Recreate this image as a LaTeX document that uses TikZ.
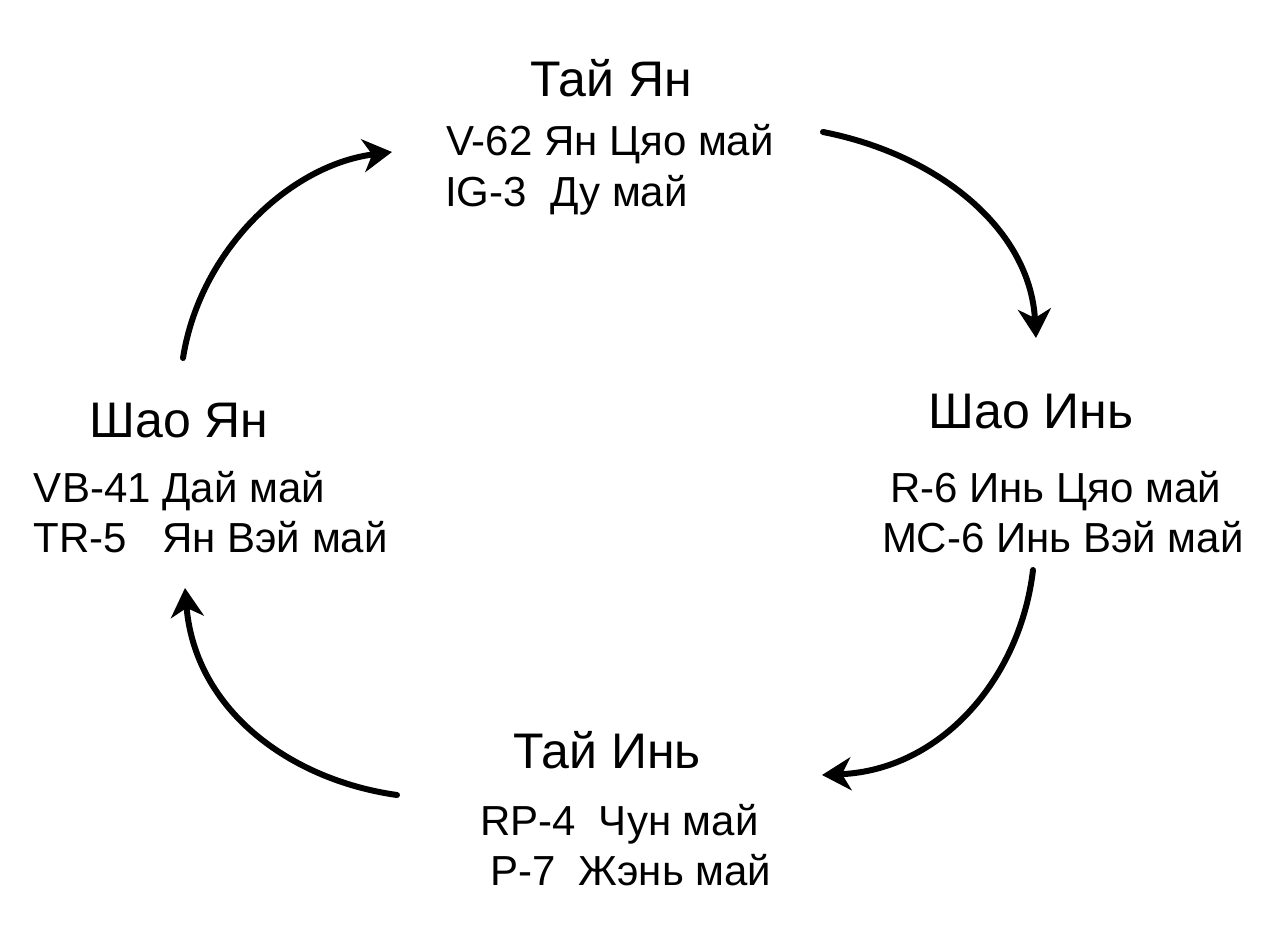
\documentclass[tikz,border=0pt]{standalone}
\usepackage{fontspec}
\setmainfont{Liberation Sans}
\usetikzlibrary{arrows.meta}

\begin{document}
\begin{tikzpicture}[x=1pt, y=-1pt, outer sep=0pt, inner sep=0pt,
  >={Stealth[length=29pt,width=33pt,inset=9pt]},
  phase/.style={font=\fontsize{50}{60}\selectfont, anchor=base},
  channel/.style={font=\fontsize{42}{50}\selectfont, anchor=base west},
  flow/.style={->, line width=6pt, line cap=round}]

\useasboundingbox[fill=white] (0,0) rectangle (1272,944);

% phases
\node[phase] at (611, 97) (TAI_YANG) {Тай Ян};
\node[phase] at (1031, 428) (SHAO_YIN) {Шао Инь};
\node[phase] at (607, 768) (TAI_YIN) {Тай Инь};
\node[phase] at (179, 437) (SHAO_YANG) {Шао Ян};

% channels
\node[channel] at (446, 156) (TAI_YANG_1) {V-62 Ян Цяо май};
\node[channel] at (445, 207) (TAI_YANG_2) {IG-3\ \ Ду май};
\node[channel] at (890, 502) (SHAO_YIN_1) {R-6 Инь Цяо май};
\node[channel] at (882, 552) (SHAO_YIN_2) {MC-6 Инь Вэй май};
\node[channel] at (480, 835) (TAI_YIN_1) {RP-4\ \ Чун май};
\node[channel] at (490, 885) (TAI_YIN_2) {P-7\ \ Жэнь май};
\node[channel] at (34, 502) (SHAO_YANG_1) {VB-41 Дай май};
\node[channel] at (34, 552) (SHAO_YANG_2) {TR-5\ \ \ Ян Вэй май};

% arrow ends
\coordinate (TY_SI_start) at (823, 132);
\coordinate (TY_SI_end) at (1036, 338);
\coordinate (SI_TI_start) at (1033, 570);
\coordinate (SI_TI_end) at (822, 775);
\coordinate (TI_SY_start) at (397, 795);
\coordinate (TI_SY_end) at (185, 588);
\coordinate (SY_TY_start) at (183, 358);
\coordinate (SY_TY_end) at (392, 152);

\draw [flow] (TY_SI_start) .. controls (940, 155) and (1030, 230) .. (TY_SI_end);
\draw [flow] (SI_TI_start) .. controls (1020, 680) and (940, 770) .. (SI_TI_end);
\draw [flow] (TI_SY_start) .. controls (290, 780) and (195, 710) .. (TI_SY_end);
\draw [flow] (SY_TY_start) .. controls (200, 250) and (290, 165) .. (SY_TY_end);
\end{tikzpicture}
\end{document}
